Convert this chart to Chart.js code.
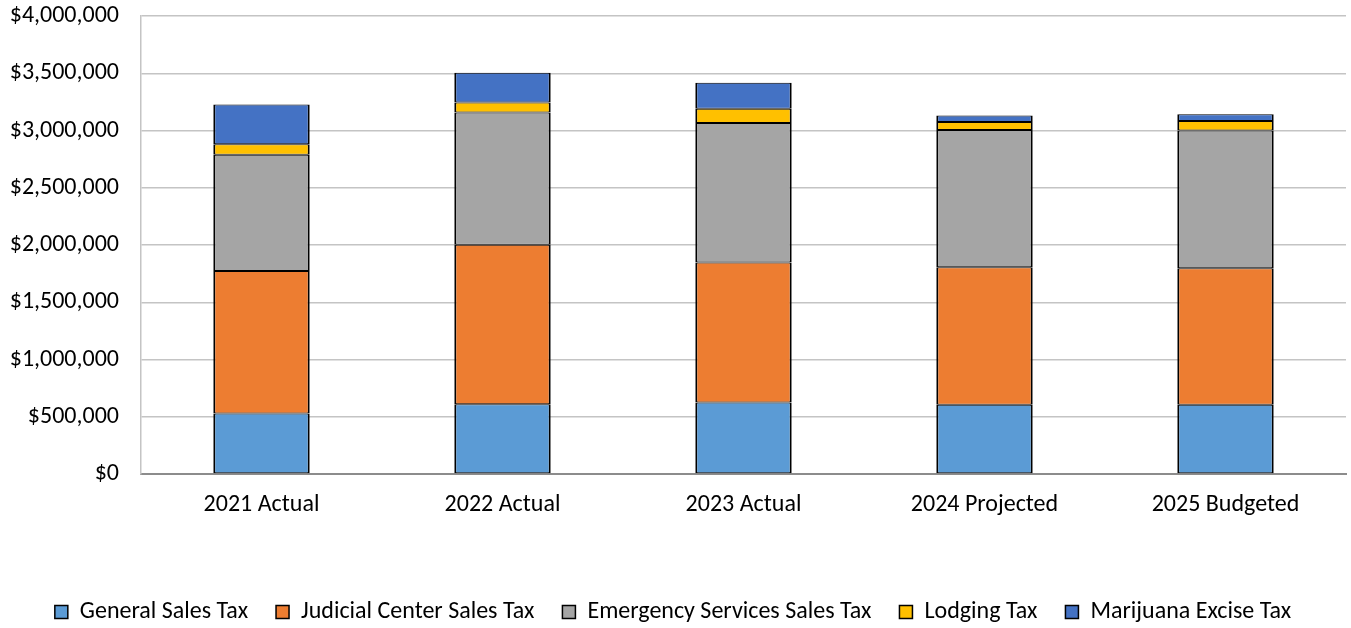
<!DOCTYPE html>
<html>
<head>
<meta charset="utf-8">
<script src="https://cdn.jsdelivr.net/npm/chart.js@4"></script>
<style>
  html, body { margin: 0; padding: 0; background: #fff; }
  #wrap { width: 1351px; height: 628px; }
</style>
</head>
<body>
<div id="wrap"><canvas id="taxChart"></canvas></div>
<script>
const years = ['2021 Actual', '2022 Actual', '2023 Actual', '2024 Projected', '2025 Budgeted'];

const generalSales = [528000, 610000, 624000, 604000, 604000];
const judicialSales = [1246000, 1392000, 1223000, 1202000, 1193000];
const emergencySales = [1015000, 1155000, 1219000, 1199000, 1203000];
const lodging = [91000, 88000, 123000, 70000, 84000];
const marijuana = [347000, 259000, 227000, 56000, 58000];

const fontFamily = 'Carlito, Calibri, Lato, "Open Sans", sans-serif';

const makeSet = (label, data, color) => ({
  label,
  data,
  backgroundColor: color,
  borderColor: '#000',
  borderWidth: { top: 1, bottom: 1, left: 2, right: 2 },
  borderSkipped: false,
  barPercentage: 0.4,
  categoryPercentage: 1
});

const money = (v) => '$' + v.toLocaleString('en-US');

new Chart(document.getElementById('taxChart'), {
  type: 'bar',
  data: {
    labels: years,
    datasets: [
      makeSet('General Sales Tax', generalSales, '#5b9bd5'),
      makeSet('Judicial Center Sales Tax', judicialSales, '#ed7d31'),
      makeSet('Emergency Services Sales Tax', emergencySales, '#a5a5a5'),
      makeSet('Lodging Tax', lodging, '#ffc000'),
      makeSet('Marijuana Excise Tax', marijuana, '#4472c4')
    ]
  },
  options: {
    responsive: true,
    maintainAspectRatio: false,
    animation: false,
    layout: { padding: { top: 0, right: 5, left: 0, bottom: -6 } },
    scales: {
      x: {
        stacked: true,
        grid: { display: false },
        border: { display: true, color: '#8c8c8c', width: 2 },
        ticks: { color: '#000', font: { family: fontFamily, size: 24 }, padding: 9 },
        afterFit: (axis) => { axis.height = 98; }
      },
      y: {
        stacked: true,
        min: 0,
        max: 4000000,
        grid: { color: '#c4c4c4', lineWidth: 1.5, drawTicks: false },
        border: { display: true, color: '#c4c4c4', width: 1.5 },
        ticks: {
          stepSize: 500000,
          color: '#000',
          padding: 22,
          font: { family: fontFamily, size: 24 },
          callback: (v) => money(v)
        },
        afterFit: (axis) => {
          axis.width = 141;
          axis.paddingTop = 16;
        }
      }
    },
    plugins: {
      legend: {
        position: 'bottom',
        labels: {
          boxWidth: 13,
          boxHeight: 13,
          padding: 28,
          color: '#000',
          font: { family: fontFamily, size: 24 }
        }
      },
      tooltip: { enabled: false }
    }
  }
});
</script>
</body>
</html>
